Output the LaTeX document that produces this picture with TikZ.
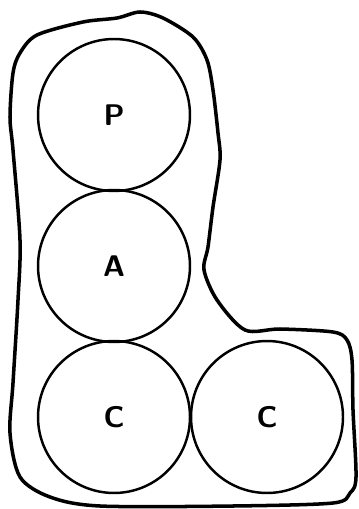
\documentclass[tikz,border=0pt]{standalone}
\begin{document}
\begin{tikzpicture}[x=0.02cm, y=-0.02cm]

\tikzset{letter/.style={circle, draw=black, line width=1.4pt, minimum size=3.04cm, font=\sffamily\bfseries\fontsize{17}{20}\selectfont}}
\tikzset{outline/.style={draw=black, line width=2pt, line join=round}}

\useasboundingbox (0,0) rectangle (358,509);

\node[letter] (p) at (114,115) {P};
\node[letter] (a) at (114,266) {A};
\node[letter] (c1) at (114,417) {C};
\node[letter] (c2) at (267,417) {C};

% hand-drawn border round the four circles
\draw[outline] plot[smooth cycle, tension=0.5] coordinates {
    (20,53) (37,35) (83,22) (117,18) (140,12) (163,18) (193,37) (207,60)
    (213,90) (218,133) (220,160) (213,207) (208,247) (204,270) (217,300)
    (245,330) (280,329) (333,332) (347,340) (352,360) (353,410) (356,477)
    (350,493) (333,503) (233,506) (100,506) (50,497) (20,477) (10,433)
    (13,383) (18,300) (20,240) (13,150) (10,117) (13,73)};

\end{tikzpicture}
\end{document}
